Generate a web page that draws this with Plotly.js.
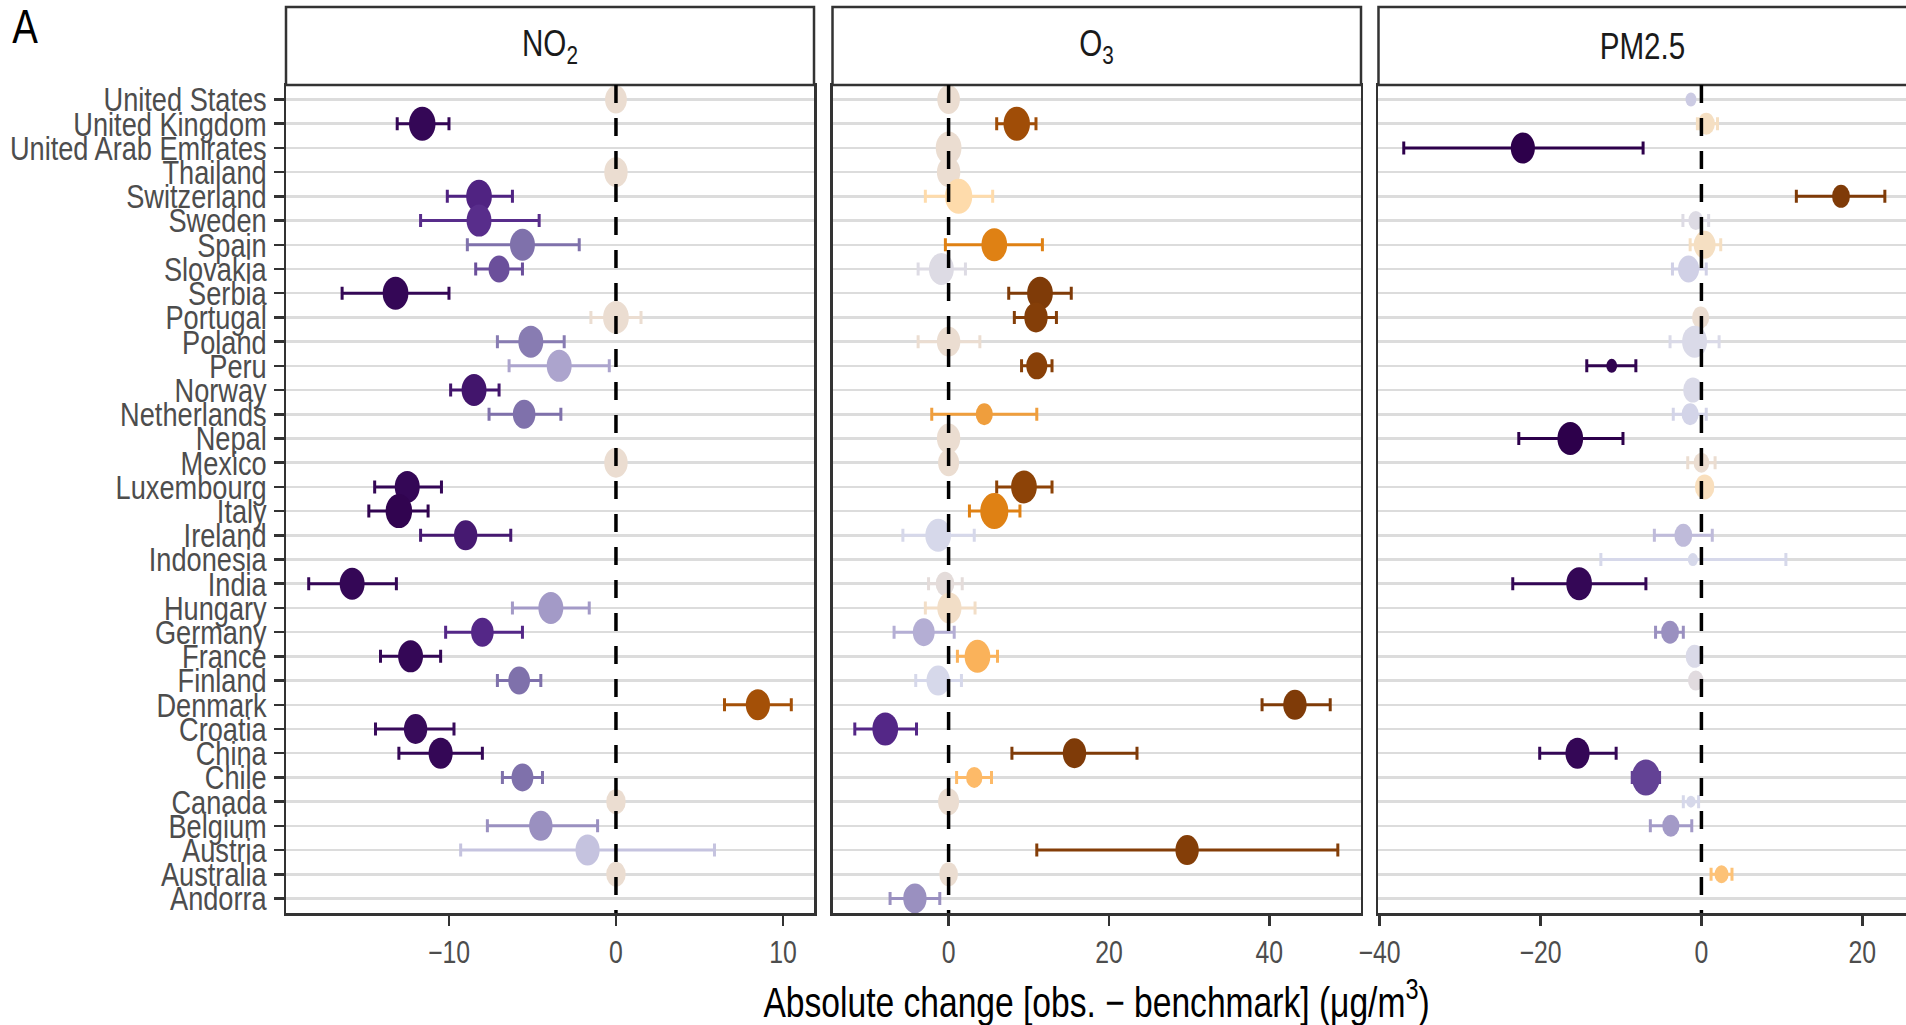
<!DOCTYPE html>
<html>
<head>
<meta charset="utf-8">
<script src="https://cdn.plot.ly/plotly-3.0.1.min.js"></script>
<style>html,body{margin:0;padding:0;background:#fff;}#chart{width:1906px;height:1025px;}</style>
</head>
<body>
<div id="chart"></div>
<script>
// Countries, top to bottom as drawn
const countries = ['United States','United Kingdom','United Arab Emirates','Thailand','Switzerland','Sweden','Spain','Slovakia','Serbia','Portugal','Poland','Peru','Norway','Netherlands','Nepal','Mexico','Luxembourg','Italy','Ireland','Indonesia','India','Hungary','Germany','France','Finland','Denmark','Croatia','China','Chile','Canada','Belgium','Austria','Australia','Andorra'];
const panels = ['NO<sub>2</sub>','O<sub>3</sub>','PM2.5'];

// NO2: absolute change, lower/upper bound, relative change (%) for colour, weight for size
const no2Est = [0,-11.6,null,0,-8.2,-8.2,-5.6,-7.0,-13.2,0,-5.1,-3.4,-8.5,-5.5,null,0,-12.5,-13.0,-9.0,null,-15.8,-3.9,-8.0,-12.3,-5.8,8.5,-12.0,-10.5,-5.6,0,-4.5,-1.7,0,null];
const no2Lo  = [null,-13.1,null,null,-10.1,-11.7,-8.9,-8.4,-16.4,-1.5,-7.1,-6.4,-9.9,-7.6,null,null,-14.45,-14.8,-11.7,null,-18.4,-6.2,-10.2,-14.1,-7.1,6.5,-14.4,-13.0,-6.8,null,-7.7,-9.3,null,null];
const no2Hi  = [null,-10.0,null,null,-6.2,-4.6,-2.2,-5.6,-10.0,1.5,-3.1,-0.4,-7.0,-3.3,null,null,-10.45,-11.25,-6.3,null,-13.15,-1.6,-5.6,-10.5,-4.5,10.5,-9.7,-8.0,-4.4,null,-1.1,5.9,null,null];
const no2Rel = [0,-48,null,0,-40,-38,-28,-33,-48,0,-26,-18,-44,-28,null,0,-48,-49,-43,null,-48,-20,-39,-48,-28,42,-47,-48,-28,0,-22,-11,0,null];
const no2Weight = [9,12,null,10,11.5,11,11,8.5,11.5,11.5,11,11,11,9.5,null,10,11,12,10,null,11,11,9.5,11,9,10.5,10,10.5,9,7.5,10,10.5,7.5,null];

// O3
const o3Est = [0,8.5,0,0,1.25,null,5.7,-0.9,11.4,10.9,0,11.0,null,4.45,0,0,9.4,5.7,-1.3,null,-0.45,0.1,-3.1,3.6,-1.3,43.2,-7.9,15.7,3.2,0,null,29.75,0,-4.2];
const o3Lo  = [null,6.0,null,null,-2.9,null,-0.4,-3.8,7.5,8.2,-3.8,9.1,null,-2.1,null,null,6.0,2.6,-5.7,null,-2.5,-2.9,-6.8,1.1,-4.1,39.1,-11.7,7.9,1.0,null,null,11.0,null,-7.3];
const o3Hi  = [null,10.9,null,null,5.5,null,11.7,2.1,15.3,13.45,3.9,12.9,null,11.0,null,null,12.9,8.9,3.2,null,1.7,3.3,0.7,6.1,1.6,47.6,-4.0,23.5,5.35,null,null,48.55,null,-1.1];
const o3Rel = [0,43,0,0,7,null,28,-4,50,49,0,48,null,22,0,0,47,28,-6,null,-2,2,-16,18,-6,50,-39,50,16,0,null,49,0,-22];
const o3Weight = [9.5,12,11.5,10,12.5,null,11.5,11,11.5,10,10,8.5,null,6,10,8.5,11.5,13,11.5,null,7,10.5,9,11.5,10,10,11.5,10,5.5,8.5,null,10,7,10];

// PM2.5
const pmEst = [-1.3,0.6,-22.2,null,17.35,-0.7,0.4,-1.6,null,-0.1,-0.85,-11.15,-1.06,-1.4,-16.3,0,0.4,null,-2.25,-1.06,-15.2,null,-3.9,-0.85,-0.7,null,null,-15.4,-6.9,-1.3,-3.8,null,2.5,null];
const pmLo  = [null,-0.5,-37.0,null,11.8,-2.3,-1.4,-3.6,null,null,-3.9,-14.25,null,-3.5,-22.7,-1.7,null,null,-5.85,-12.5,-23.45,null,-5.7,null,null,null,null,-20.1,-8.6,-2.25,-6.35,null,1.2,null];
const pmHi  = [null,2.0,-7.25,null,22.8,0.9,2.4,0.6,null,null,2.2,-8.15,null,0.6,-9.75,1.7,null,null,1.35,10.5,-6.9,null,-2.25,null,null,null,null,-10.6,-5.2,-0.35,-1.2,null,3.8,null];
const pmRel = [-9,3,-50,null,50,-4,3,-8,null,0,-5,-49,-5,-7,-50,0,4,null,-13,-6,-48,null,-22,-5,-3,null,null,-48,-35,-6,-20,null,14,null];
const pmWeight = [2,6,10.5,null,6.5,4.5,9,8.5,null,6,11,2,7.5,6,11.5,5,7.5,null,6.5,1.5,11.5,null,6.5,6.5,5,null,null,10.5,13,1,6,null,4,null];

// Axis ticks
const no2Ticks = [-10,0,10];
const o3Ticks = [0,20,40];
const pmTicks = [-40,-20,0,20];

const series = [
  {est:no2Est, lo:no2Lo, hi:no2Hi, rel:no2Rel, w:no2Weight, ticks:no2Ticks},
  {est:o3Est, lo:o3Lo, hi:o3Hi, rel:o3Rel, w:o3Weight, ticks:o3Ticks},
  {est:pmEst, lo:pmLo, hi:pmHi, rel:pmRel, w:pmWeight, ticks:pmTicks}
];

// PuOr palette (without the white middle), relative change -50..50
const stops = ['#2d004b','#542788','#8073ac','#b2abd2','#d8daeb','#fee0b6','#fdb863','#e08214','#b35806','#7f3b08'];
function hex2rgb(h){return [parseInt(h.slice(1,3),16),parseInt(h.slice(3,5),16),parseInt(h.slice(5,7),16)];}
function colorFor(rel){
  let t = (rel + 50) / 100; t = Math.max(0, Math.min(1, t));
  const n = stops.length - 1, p = t * n, i = Math.min(n - 1, Math.floor(p)), f = p - i;
  const a = hex2rgb(stops[i]), b = hex2rgb(stops[i+1]);
  const c = a.map((v,k)=>Math.round(v + (b[k]-v)*f));
  return 'rgb(' + c.join(',') + ')';
}

const suffix = ['', '2', '3'];
const traces = [];
series.forEach((s, k) => {
  countries.forEach((cty, i) => {
    if (s.est[i] === null) return;
    const col = colorFor(s.rel[i]);
    const tr = {
      type:'scatter', mode:'markers', x:[s.est[i]], y:[cty],
      xaxis:'x'+suffix[k], yaxis:'y'+suffix[k],
      marker:{size:10 + 2*s.w[i], color:col, line:{width:0}},
      hoverinfo:'skip', showlegend:false
    };
    if (s.lo[i] !== null) {
      tr.error_x = {type:'data', symmetric:false, array:[s.hi[i]-s.est[i]], arrayminus:[s.est[i]-s.lo[i]], color:col, thickness:3, width:6.5};
    }
    traces.push(tr);
  });
});

const FONT = '"Liberation Sans", Arial, Helvetica, sans-serif';
const SQUASH = 0.8;
const catOrder = countries.slice().reverse();
const ranges = [[-19.76, 11.86], [-14.48, 51.44], [-40.14, 25.43]];
const domains = [[0, 0.32593], [0.33735, 0.66358], [0.67438, 1]];

const layout = {
  width:1906, height:1025,
  margin:{l:286, r:0, t:85, b:112, pad:0},
  paper_bgcolor:'#ffffff', plot_bgcolor:'#ffffff',
  font:{family:FONT, color:'#4d4d4d'},
  showlegend:false,
  shapes:[], annotations:[]
};
const stripH = 78/828;
for (let k = 0; k < 3; k++) {
  const s = suffix[k];
  layout['xaxis'+s] = {
    domain:domains[k], range:ranges[k], anchor:'y'+s,
    tickmode:'array', tickvals:series[k].ticks, ticktext:series[k].ticks.map(v => v < 0 ? '\u2212' + Math.abs(v) : String(v)),
    ticks:'outside', ticklen:10, tickwidth:2.5, tickcolor:'#333333',
    tickfont:{size:31, color:'#4d4d4d', family:FONT},
    showline:true, linecolor:'#333333', linewidth:2.5, mirror:true,
    showgrid:false, zeroline:false, fixedrange:true
  };
  const ya = {
    domain:[0,1], anchor:'x'+s, type:'category', categoryorder:'array', categoryarray:catOrder,
    tickmode:'array', tickvals:catOrder, ticktext:catOrder,
    range:[-0.6, 33.6],
    showgrid:true, gridcolor:'#dcdcdc', gridwidth:2.5,
    showline:true, linecolor:'#333333', linewidth:2.5, mirror:(k < 2),
    zeroline:false, fixedrange:true
  };
  if (k === 0) {
    Object.assign(ya, {ticks:'outside', ticklen:10, tickwidth:2.5, tickcolor:'#333333', tickfont:{size:34, color:'#4d4d4d', family:FONT}});
  } else {
    Object.assign(ya, {matches:'y', showticklabels:false, ticks:''});
  }
  layout['yaxis'+s] = ya;

  // strip box
  layout.shapes.push({type:'rect', xref:'x'+s+' domain', yref:'paper', x0:0, x1:(k===2?1.01:1), y0:1, y1:1+stripH,
    fillcolor:'#ffffff', line:{color:'#333333', width:2.5}, layer:'above'});
  // dashed reference line at 0
  layout.shapes.push({type:'line', xref:'x'+s, yref:'y'+s+' domain', x0:0, x1:0, y0:1, y1:0,
    line:{color:'#000000', width:3.5, dash:'18px,15px'}, layer:'above'});
  // strip label
  layout.annotations.push({xref:'x'+s+' domain', yref:'paper', x:0.5, y:1 + 39/828, xanchor:'center', yanchor:'middle',
    text:panels[k], showarrow:false, font:{size:37, color:'#1a1a1a', family:FONT}});
}
layout.annotations.push({xref:'paper', yref:'paper', x:(7-286)/1620, y:1 + (85-27)/828, xanchor:'left', yanchor:'middle',
  text:'A', showarrow:false, font:{size:48, color:'#000000', family:FONT}});
layout.annotations.push({xref:'paper', yref:'paper', x:0.5, y:-(999-913)/828, xanchor:'center', yanchor:'middle',
  text:'Absolute change [obs. \u2212 benchmark] (\u03bcg/m<sup>3</sup>)', showarrow:false, font:{size:42, color:'#000000', family:FONT}});

Plotly.newPlot('chart', traces, layout, {staticPlot:true, displayModeBar:false, responsive:false}).then(gd => {
  // the reference is horizontally condensed: squash markers into ellipses and text horizontally
  gd.querySelectorAll('.scatterlayer .trace .points path.point').forEach(p => {
    const t = p.getAttribute('transform') || '';
    if (t.indexOf('scale') < 0) p.setAttribute('transform', t + ' scale(0.78,1)');
  });
  gd.querySelectorAll('svg text').forEach(t => {
    const x = parseFloat(t.getAttribute('x')) || 0;
    const tr = t.getAttribute('transform') || '';
    t.setAttribute('transform', tr + ' translate(' + (x * (1 - SQUASH)) + ',0) scale(' + SQUASH + ',1)');
  });
});
</script>
</body>
</html>
